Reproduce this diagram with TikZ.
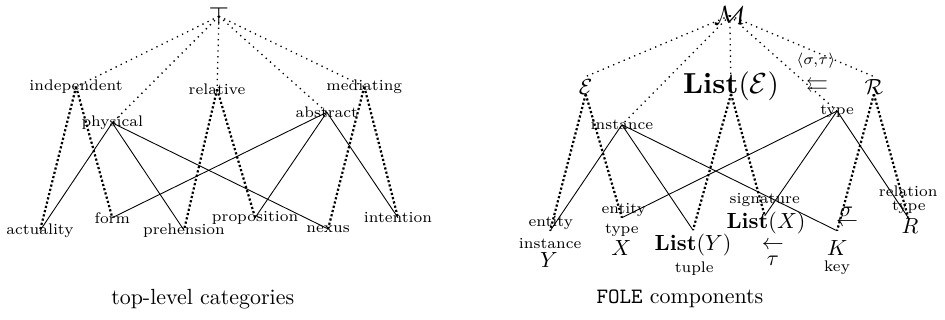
\documentclass[tikz,border=0pt]{standalone}
\usepackage{amssymb}

\tikzset{
  lbl/.style={font=\scriptsize},
  sym/.style={inner sep=1pt},
  isa/.style={dotted, semithick},
  sub/.style={densely dotted, line width=1pt},
  tie/.style={thin}
}

\begin{document}
\begin{tikzpicture}
\useasboundingbox (0,0) rectangle (15.15,5.13);

\node[sym, font=\large] (top) at (3.51,4.87) {$\top$};
\node[lbl] (ind) at (1.22,3.74) {independent};
\node[lbl] (rel) at (3.48,3.70) {relative};
\node[lbl] (med) at (5.84,3.74) {mediating};
\node[lbl] (phys) at (1.80,3.16) {physical};
\node[lbl] (abs) at (5.24,3.33) {abstract};
\node[lbl] (act) at (0.64,1.43) {actuality};
\node[lbl] (form) at (1.80,1.64) {form};
\node[lbl] (preh) at (2.95,1.44) {prehension};
\node[lbl] (prop) at (4.09,1.64) {proposition};
\node[lbl] (nex) at (5.26,1.46) {nexus};
\node[lbl] (int) at (6.38,1.64) {intention};

\draw[isa] (top.center) -- (ind.center);
\draw[isa] (top.center) -- (phys.center);
\draw[isa] (top.center) -- (rel.center);
\draw[isa] (top.center) -- (abs.center);
\draw[isa] (top.center) -- (med.center);

\draw[sub] (ind.center) -- (act.center);
\draw[sub] (ind.center) -- (form.center);
\draw[sub] (rel.center) -- (preh.center);
\draw[sub] (rel.center) -- (prop.center);
\draw[sub] (med.center) -- (nex.center);
\draw[sub] (med.center) -- (int.center);

\draw[tie] (phys.center) -- (act.center);
\draw[tie] (phys.center) -- (preh.center);
\draw[tie] (phys.center) -- (nex.center);
\draw[tie] (abs.center) -- (form.center);
\draw[tie] (abs.center) -- (prop.center);
\draw[tie] (abs.center) -- (int.center);

\node (cap1) at (3.25,0.34) {top-level categories};

\node[sym, font=\large] (M) at (11.70,4.88) {$\mathcal{M}$};
\node[sym] (E) at (9.39,3.74) {$\mathcal{E}$};
\node[sym, scale=1.32] (LE) at (11.72,3.74) {$\mathbf{List}(\mathcal{E})$};
\node[sym] (R) at (14.01,3.74) {$\mathcal{R}$};
\node (pair) at (13.08,4.15) {$\scriptstyle\langle\sigma,\tau\rangle$};
\node (lla) at (13.10,3.77) {$\leftleftarrows$};
\node[lbl] (inst) at (9.97,3.13) {instance};
\node[lbl] (typ) at (13.42,3.35) {type};

\coordinate (Yp) at (8.82,1.43);
\coordinate (Xp) at (9.97,1.64);
\coordinate (LYp) at (11.11,1.44);
\coordinate (LXp) at (12.26,1.67);
\coordinate (Kp) at (13.42,1.43);
\coordinate (Rp) at (14.56,1.64);

\node[lbl] (ent1) at (8.83,1.56) {entity};
\node[lbl] (inst1) at (8.82,1.23) {instance};
\node (Y) at (8.80,0.96) {$Y$};
\node[lbl] (ent2) at (10.00,1.76) {entity};
\node[lbl] (etype) at (9.97,1.44) {type};
\node (X) at (9.96,1.15) {$X$};
\node (LY) at (11.11,1.20) {$\mathbf{List}(Y)$};
\node[lbl] (tuple) at (11.13,0.83) {tuple};
\node[lbl] (sig) at (12.26,1.92) {signature};
\node[sym] (LX) at (12.28,1.56) {$\mathbf{List}(X)$};
\node[sym] (tarr) at (12.39,1.20) {$\leftarrow$};
\node (tau) at (12.39,0.95) {$\tau$};
\node (K) at (13.42,1.15) {$K$};
\node[lbl] (key) at (13.42,0.83) {key};
\node (sarr) at (13.58,1.56) {$\leftarrow$};
\node[sym] (sigma) at (13.57,1.74) {$\sigma$};
\node[lbl] (relat) at (14.56,2.07) {relation};
\node[lbl] (rtype) at (14.57,1.81) {type};
\node (Rb) at (14.59,1.51) {$R$};

\draw[isa] (M.center) -- (E.north);
\draw[isa] (M.center) -- (inst.center);
\draw[isa] (M.center) -- (LE.base);
\draw[isa] (M.center) -- (typ.center);
\draw[isa] (M.center) -- (R.north);

\draw[sub] (E.base) -- (Yp);
\draw[sub] (E.base) -- (Xp);
\draw[sub] (LE.base) -- (LYp);
\draw[sub] (LE.base) -- (LXp);
\draw[sub] (R.base) -- (Kp);
\draw[sub] (R.base) -- (Rp);

\draw[tie] (inst.center) -- (Yp);
\draw[tie] (inst.center) -- (LYp);
\draw[tie] (inst.center) -- (Kp);
\draw[tie] (typ.center) -- (Xp);
\draw[tie] (typ.center) -- (LXp);
\draw[tie] (typ.center) -- (Rp);

\node (cap2) at (10.90,0.34) {\texttt{FOLE} components};
\end{tikzpicture}
\end{document}
